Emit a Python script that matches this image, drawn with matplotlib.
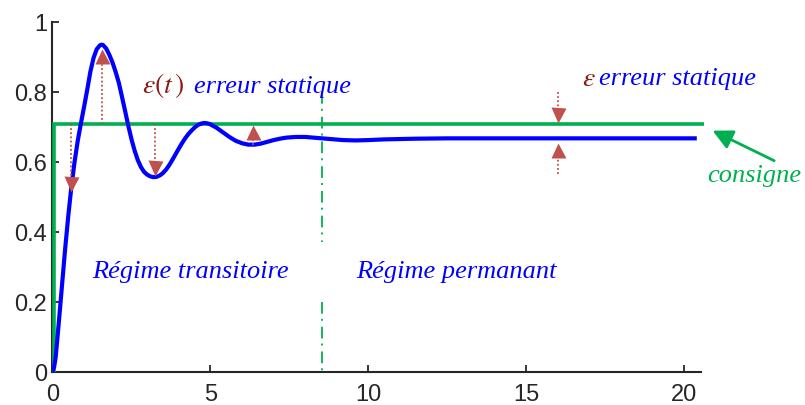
import numpy as np
import matplotlib
matplotlib.use("Agg")
import matplotlib.pyplot as plt

plt.rcParams['mathtext.fontset'] = 'stix'

# step response
t_resp = [0.00, 0.05, 0.10, 0.20, 0.30, 0.40, 0.50, 0.60, 0.70, 0.80, 0.90, 1.00,
          1.10, 1.20, 1.30, 1.40, 1.50, 1.55, 1.60, 1.70, 1.80, 1.90, 2.00, 2.10,
          2.20, 2.30, 2.40, 2.50, 2.60, 2.70, 2.80, 2.90, 3.00, 3.10, 3.20, 3.30,
          3.40, 3.50, 3.60, 3.70, 3.80, 3.90, 4.00, 4.10, 4.20, 4.30, 4.40, 4.50,
          4.60, 4.70, 4.80, 4.90, 5.00, 5.20, 5.40, 5.60, 5.80, 6.00, 6.20, 6.40,
          6.60, 6.80, 7.00, 7.20, 7.40, 7.70, 8.00, 8.40, 8.80, 9.20, 9.60, 10.0,
          10.5, 11.0, 11.5, 12.5, 14.0, 16.0, 18.0, 20.4]
y_resp = [0.000, 0.012, 0.040, 0.140, 0.245, 0.350, 0.445, 0.530, 0.600, 0.660, 0.710, 0.757,
          0.806, 0.858, 0.897, 0.922, 0.933, 0.935, 0.934, 0.924, 0.906, 0.884, 0.857, 0.826,
          0.786, 0.745, 0.703, 0.665, 0.632, 0.605, 0.585, 0.571, 0.563, 0.558, 0.556, 0.557,
          0.561, 0.568, 0.578, 0.591, 0.606, 0.622, 0.638, 0.653, 0.667, 0.679, 0.689, 0.698,
          0.705, 0.709, 0.711, 0.710, 0.707, 0.697, 0.684, 0.671, 0.660, 0.653, 0.649, 0.649,
          0.652, 0.657, 0.662, 0.666, 0.669, 0.671, 0.671, 0.668, 0.665, 0.662, 0.661, 0.662,
          0.664, 0.665, 0.666, 0.667, 0.667, 0.667, 0.667, 0.667]

# consigne (setpoint)
t_cons = [0.06, 0.06, 20.62]
y_cons = [0.0, 0.708, 0.708]

# error arrows: x, start of dotted line, arrow tip
err_x = [0.60, 1.56, 3.25, 6.36, 16.02, 16.02]
err_start = [0.708, 0.708, 0.708, 0.648, 0.800, 0.565]
err_tip = [0.515, 0.925, 0.560, 0.708, 0.711, 0.656]

t_split = 8.52
xticks = [0, 5, 10, 15, 20]
yticks = [0, 0.2, 0.4, 0.6, 0.8, 1]
yticklabels = ['0', '0.2', '0.4', '0.6', '0.8', '1']

blue = '#0000ff'
green = '#00b050'
red = '#c0504d'
darkred = '#8c1a14'

fig = plt.figure(figsize=(8.05, 4.06), dpi=100)
ax = fig.add_axes([0.0652, 0.0825, 0.8055, 0.861])

ax.plot(t_cons, y_cons, color=green, lw=2.6, clip_on=False, zorder=3,
        solid_capstyle='butt', solid_joinstyle='miter')
ax.plot(t_resp, y_resp, color=blue, lw=3, zorder=4, solid_capstyle='butt',
        solid_joinstyle='round')

# regime separation
dd = (0, (6.5, 2.8, 1.1, 3.3))
ax.plot([t_split, t_split], [0.80, 0.37], color=green, lw=1.3, linestyle=dd, zorder=2)
ax.plot([t_split, t_split], [0.20, -0.013], color=green, lw=1.3, linestyle=dd, zorder=2, clip_on=False)

# error arrows
h = 0.043
for x, y0, y1 in zip(err_x, err_start, err_tip):
    s = 1 if y1 > y0 else -1
    base = y1 - s * h
    ax.plot([x, x], [y0, base], color=red, lw=1.3, linestyle=(0, (1, 1.3)), zorder=5)
    ax.plot([x], [y1 - s * h / 2], marker='^' if s > 0 else 'v', ms=10.8,
            color=red, mec='none', zorder=6, linestyle='none')

# texts
fs = 19
tfont = dict(family='Liberation Serif', style='italic', fontsize=fs)
ax.text(2.84, 0.80, r'$\varepsilon(t\,)$', color=darkred, fontsize=fs + 1, va='baseline')
ax.text(4.47, 0.80, 'erreur statique', color=blue, va='baseline', **tfont)
ax.text(16.78, 0.82, r'$\varepsilon$', color=darkred, fontsize=fs + 1, va='baseline')
ax.text(17.31, 0.823, 'erreur statique', color=blue, va='baseline', **tfont)
ax.text(1.26, 0.27, 'Régime transitoire', color=blue, va='baseline', **tfont)
ax.text(9.62, 0.27, 'Régime permanant', color=blue, va='baseline', **tfont)
ax.text(20.73, 0.546, 'consigne', color=green, va='baseline', **tfont)
ax.annotate('', xy=(20.9, 0.689), xytext=(22.85, 0.603), annotation_clip=False,
            arrowprops=dict(arrowstyle='-|>,head_length=0.6,head_width=0.3',
                            color=green, lw=2, mutation_scale=20, shrinkA=0, shrinkB=0))

ax.set_xlim(0, 20.53)
ax.set_ylim(0, 1)
ax.set_xticks(xticks)
ax.set_yticks(yticks)
ax.set_yticklabels(yticklabels)
for side in ['top', 'right']:
    ax.spines[side].set_visible(False)
for side in ['left', 'bottom']:
    ax.spines[side].set_linewidth(1.5)
    ax.spines[side].set_color('#262626')
ax.tick_params(direction='in', length=5, width=1.3, color='#262626',
               labelsize=17, labelcolor='#262626')
ax.tick_params(axis='x', pad=8)
ax.tick_params(axis='y', pad=4)
for lab in ax.get_xticklabels() + ax.get_yticklabels():
    lab.set_family('Liberation Sans')

fig.savefig('out.png', dpi=100)
